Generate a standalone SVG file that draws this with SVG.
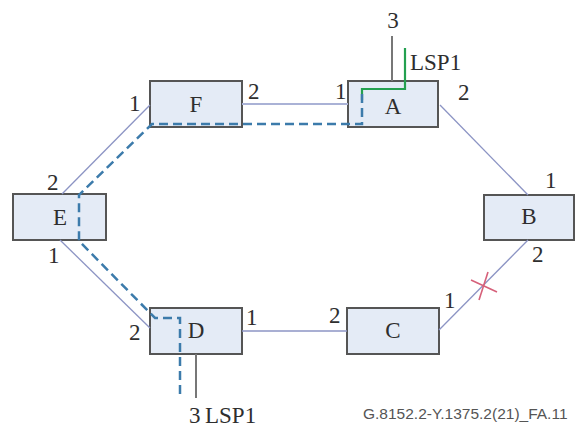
<svg xmlns="http://www.w3.org/2000/svg" width="576" height="429" viewBox="0 0 576 429">
<style>
.box{fill:#e4ebf6;stroke:#555;stroke-width:2}
.t{font-family:'Liberation Serif','Times New Roman','DejaVu Serif',serif;font-size:23px;fill:#2e2e2e}
.c{text-anchor:middle}
.link{stroke:#8c94c4;stroke-width:1.3;fill:none}
.fa{stroke:#aab2d6;stroke-width:2.2;fill:none}
.drop{stroke:#777;stroke-width:2;fill:none}
.lsp{stroke:#24a050;stroke-width:2.2;fill:none}
.prot{stroke:#3c7bab;stroke-width:2.5;fill:none;stroke-dasharray:9 5}
.x{stroke:#d6607a;stroke-width:1.6}
.cap{font-family:'Liberation Sans',Arial,sans-serif;font-size:15.5px;fill:#555}
</style>
<rect width="576" height="429" fill="#fff"/>
<g id="node-F"><rect class="box" x="150" y="81" width="92" height="46"/><text class="t c" x="196" y="112">F</text></g>
<g id="node-A"><rect class="box" x="348" y="81" width="90" height="46"/><text class="t c" x="393" y="114">A</text></g>
<g id="node-E"><rect class="box" x="13" y="194" width="93" height="46"/><text class="t c" x="60" y="225">E</text></g>
<g id="node-B"><rect class="box" x="484" y="195" width="90" height="45"/><text class="t c" x="529" y="224">B</text></g>
<g id="node-C"><rect class="box" x="347" y="308" width="92" height="46"/><text class="t c" x="393" y="338">C</text></g>
<g id="node-D"><rect class="box" x="150" y="308" width="92" height="46"/><text class="t c" x="196" y="338">D</text></g>
<g id="connectors">
<line class="fa" x1="242" y1="104" x2="348" y2="104"/>
<line class="link" x1="440" y1="105" x2="528" y2="195"/>
<line class="link" x1="528" y1="240" x2="439" y2="330"/>
<line class="link" x1="242" y1="331" x2="347" y2="331"/>
<line class="link" x1="150" y1="105" x2="62" y2="194"/>
<line class="link" x1="60" y1="240" x2="150" y2="328"/>
<line class="drop" x1="392" y1="36" x2="392" y2="81"/>
<line class="drop" x1="196" y1="354" x2="196" y2="398"/>
<polyline class="lsp" points="362,100 362,89 405,89 405,48"/>
<polyline class="prot" points="362,94 362,124 152,124 79,195 79,241 155,318 180,318 180,398"/>
<line class="x" x1="471" y1="280" x2="497" y2="292"/>
<line class="x" x1="488" y1="272" x2="479" y2="300"/>
</g>
<g id="labels">
<text class="t c" x="393" y="28">3</text>
<text class="t" x="410" y="70">LSP1</text>
<text class="t" x="335" y="99">1</text>
<text class="t" x="458" y="100">2</text>
<text class="t" x="248" y="99">2</text>
<text class="t" x="129" y="111">1</text>
<text class="t" x="47" y="190">2</text>
<text class="t" x="48" y="263">1</text>
<text class="t" x="545" y="188">1</text>
<text class="t" x="532" y="262">2</text>
<text class="t" x="444" y="308">1</text>
<text class="t" x="329" y="323">2</text>
<text class="t" x="246" y="325">1</text>
<text class="t" x="129" y="340">2</text>
<text class="t" x="189" y="423">3</text>
<text class="t" x="205" y="423">LSP1</text>
<text class="cap" x="363" y="419">G.8152.2-Y.1375.2(21)_FA.11</text>
</g>
</svg>
